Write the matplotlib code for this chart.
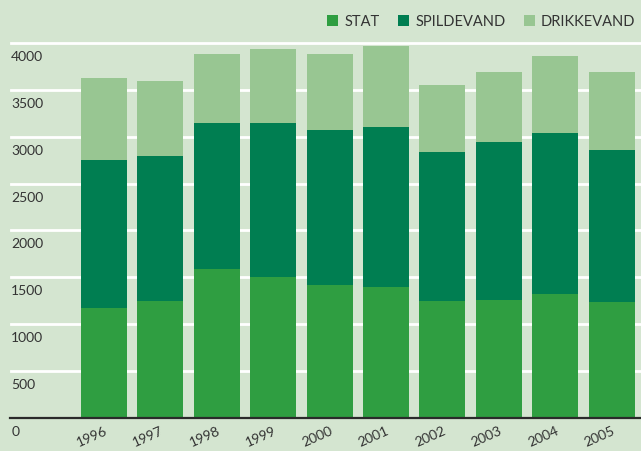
import matplotlib
matplotlib.use('Agg')
import matplotlib.pyplot as plt
import matplotlib.transforms as mtransforms
import numpy as np

plt.rcParams['font.family'] = ['Lato', 'DejaVu Sans']

years = ['1996', '1997', '1998', '1999', '2000', '2001', '2002', '2003', '2004', '2005']
# stacked totals
stat = [1173, 1248, 1589, 1504, 1419, 1397, 1248, 1259, 1323, 1237]
spildevand_top = [2752, 2795, 3147, 3147, 3072, 3104, 2837, 2944, 3040, 2859]
total_top = [3627, 3595, 3883, 3936, 3883, 3968, 3552, 3691, 3861, 3691]

spildevand = [b - a for a, b in zip(stat, spildevand_top)]
drikkevand = [c - b for b, c in zip(spildevand_top, total_top)]

yticks = [0, 500, 1000, 1500, 2000, 2500, 3000, 3500, 4000]

bg = '#d4e5d0'
c_stat = '#2f9e41'
c_spild = '#007e51'
c_drikke = '#98c692'
txt = '#333333'

fig = plt.figure(figsize=(6.41, 4.52), dpi=100)
fig.patch.set_facecolor(bg)
ax = fig.add_axes([10 / 641, 33 / 452, 631 / 641, 384 / 452])
ax.set_facecolor(bg)

x = np.arange(len(years))
w = 0.816
ax.bar(x, stat, w, color=c_stat, label='STAT', zorder=3)
ax.bar(x, spildevand, w, bottom=stat, color=c_spild, label='SPILDEVAND', zorder=3)
ax.bar(x, drikkevand, w, bottom=spildevand_top, color=c_drikke, label='DRIKKEVAND', zorder=3)

ax.set_xlim(-1.667, 9.52)
ax.set_ylim(0, 4095)

# white gridlines
for v in yticks[1:]:
    ax.axhline(v, xmin=0.002, color='white', lw=2, zorder=1)

for s in ['top', 'right', 'left']:
    ax.spines[s].set_visible(False)
ax.spines['bottom'].set_color('#2a2a2a')
ax.spines['bottom'].set_linewidth(1.6)
ax.spines['bottom'].set_zorder(4)

# y labels sit just below their gridline
ax.set_yticks([])
trans = ax.get_yaxis_transform()
for v in yticks:
    ax.text(0.002, v, str(v), transform=trans + mtransforms.ScaledTranslation(0, -0.07, fig.dpi_scale_trans),
            ha='left', va='top', fontsize=10, color=txt, clip_on=False)

ax.set_xticks(x)
ax.set_xticklabels(years, rotation=24, ha='right', rotation_mode='anchor', fontsize=10, color=txt)
ax.tick_params(axis='x', length=0, pad=4)

fig.legend(loc='upper right', bbox_to_anchor=(1.012, 0.995), ncol=3, frameon=False,
           handlelength=0.75, handleheight=0.75, handletextpad=0.4, columnspacing=1.3,
           fontsize=10.5, labelcolor=txt)

plt.savefig('out.png', dpi=100, facecolor=bg)
